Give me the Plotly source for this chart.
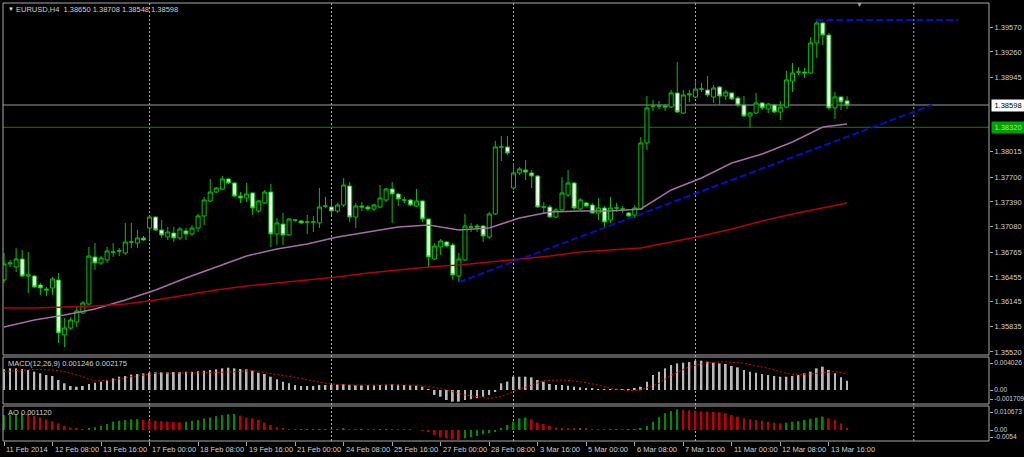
import plotly.graph_objects as go

# ---------------- data ----------------
bar_index = list(range(140))

open_ = [1.36417,1.36617,1.36579,1.36679,1.36467,1.36467,1.36355,1.36305,1.36318,1.36417,
 1.35732,1.35819,1.35894,1.36006,1.36118,1.36704,1.36629,1.36667,1.36766,1.36779,
 1.36754,1.36891,1.36878,1.36941,1.37065,1.37202,1.37040,1.36953,1.37003,1.36941,
 1.37028,1.36991,1.37065,1.37215,1.37402,1.37514,1.37551,1.37676,1.37626,1.37464,
 1.37439,1.37502,1.37277,1.37377,1.37514,1.36991,1.37115,1.36978,1.37165,1.37153,
 1.37140,1.37140,1.37128,1.37339,1.37327,1.37277,1.37352,1.37589,1.37202,1.37339,
 1.37327,1.37302,1.37327,1.37414,1.37551,1.37489,1.37414,1.37414,1.37339,1.37402,
 1.37177,1.36679,1.36829,1.36891,1.36854,1.36467,1.36667,1.37078,1.37090,1.37090,
 1.36953,1.37240,1.38075,1.38075,1.37564,1.37751,1.37788,1.37751,1.37713,1.37327,
 1.37327,1.37202,1.37290,1.37477,1.37626,1.37302,1.37377,1.37352,1.37252,1.37315,
 1.37165,1.37315,1.37302,1.37252,1.37227,1.37302,1.38125,1.38586,1.38586,1.38586,
 1.38573,1.38748,1.38498,1.38723,1.38698,1.38797,1.38785,1.38698,1.38822,1.38710,
 1.38748,1.38685,1.38598,1.38461,1.38498,1.38623,1.38548,1.38598,1.38511,1.38573,
 1.38897,1.39009,1.39009,1.38997,1.39371,1.39620,1.39470,1.38561,1.38698,1.38650]

high = [1.36754,1.36667,1.36816,1.36791,1.36766,1.36480,1.36380,1.36330,1.36455,1.36505,
 1.35944,1.35956,1.36081,1.36156,1.36829,1.36878,1.36716,1.36829,1.36878,1.36816,
 1.37128,1.37128,1.37040,1.36966,1.37227,1.37215,1.37165,1.37078,1.37078,1.37078,
 1.37065,1.37103,1.37240,1.37452,1.37676,1.37576,1.37713,1.37688,1.37638,1.37514,
 1.37626,1.37514,1.37414,1.37539,1.37614,1.37190,1.37252,1.37190,1.37177,1.37165,
 1.37227,1.37215,1.37564,1.37452,1.37414,1.37377,1.37688,1.37638,1.37377,1.37389,
 1.37352,1.37364,1.37601,1.37564,1.37638,1.37502,1.37452,1.37427,1.37551,1.37414,
 1.37177,1.36878,1.36928,1.36903,1.36878,1.36754,1.37240,1.37128,1.37115,1.37103,
 1.37265,1.38150,1.38212,1.38212,1.37875,1.37825,1.37913,1.37788,1.37726,1.37389,
 1.37352,1.37315,1.37701,1.37788,1.37638,1.37439,1.37389,1.37377,1.37439,1.37339,
 1.37452,1.37377,1.37339,1.37265,1.37352,1.38200,1.38710,1.38660,1.38648,1.38610,
 1.38785,1.39134,1.38785,1.38785,1.38910,1.38872,1.38959,1.38847,1.38835,1.38785,
 1.38760,1.38710,1.38710,1.38511,1.38748,1.38635,1.38623,1.38610,1.38648,1.39022,
 1.39121,1.39072,1.39059,1.39445,1.39657,1.39632,1.39495,1.38760,1.38710,1.38708]

low = [1.36380,1.36579,1.36517,1.36455,1.36255,1.36318,1.36231,1.36218,1.36231,1.35632,
 1.35582,1.35794,1.35832,1.35994,1.36106,1.36542,1.36604,1.36629,1.36704,1.36716,
 1.36729,1.36816,1.36816,1.36903,1.36916,1.37028,1.36941,1.36916,1.36891,1.36916,
 1.36916,1.36966,1.37015,1.37103,1.37389,1.37502,1.37539,1.37614,1.37452,1.37377,
 1.37389,1.37227,1.37252,1.37364,1.36829,1.36854,1.36854,1.36966,1.37140,1.37115,
 1.36991,1.37015,1.37065,1.37315,1.37227,1.37252,1.37327,1.37140,1.37065,1.37277,
 1.37277,1.37277,1.37315,1.37389,1.37128,1.37339,1.37377,1.37339,1.37327,1.37140,
 1.36579,1.36667,1.36729,1.36829,1.36417,1.36393,1.36654,1.37015,1.37015,1.36891,
 1.36928,1.37227,1.37900,1.37975,1.37539,1.37726,1.37663,1.37564,1.37315,1.37252,
 1.37190,1.37190,1.37277,1.37452,1.37290,1.37290,1.37327,1.37240,1.37165,1.37065,
 1.37128,1.37265,1.37252,1.37202,1.37190,1.37290,1.38037,1.38523,1.38548,1.38523,
 1.38561,1.38498,1.38486,1.38635,1.38685,1.38760,1.38698,1.38623,1.38598,1.38660,
 1.38660,1.38573,1.38449,1.38312,1.38486,1.38536,1.38498,1.38498,1.38411,1.38561,
 1.38760,1.38972,1.38934,1.38984,1.39184,1.39346,1.38536,1.38424,1.38536,1.38548]

close = [1.36617,1.36629,1.36679,1.36467,1.36480,1.36330,1.36318,1.36293,1.36430,1.35757,
 1.35819,1.35919,1.36031,1.36131,1.36716,1.36629,1.36692,1.36779,1.36766,1.36779,
 1.36891,1.36891,1.36941,1.36916,1.37202,1.37040,1.36978,1.37015,1.36941,1.37053,
 1.36991,1.37065,1.37215,1.37414,1.37514,1.37564,1.37676,1.37626,1.37464,1.37439,
 1.37489,1.37315,1.37402,1.37514,1.36991,1.37128,1.36978,1.37177,1.37165,1.37128,
 1.37140,1.37140,1.37327,1.37339,1.37277,1.37352,1.37601,1.37202,1.37339,1.37327,
 1.37302,1.37352,1.37439,1.37551,1.37489,1.37427,1.37414,1.37352,1.37402,1.37177,
 1.36704,1.36841,1.36903,1.36841,1.36480,1.36679,1.37090,1.37078,1.37078,1.36966,
 1.37240,1.38075,1.38075,1.38000,1.37751,1.37801,1.37763,1.37713,1.37327,1.37327,
 1.37202,1.37290,1.37502,1.37626,1.37315,1.37414,1.37339,1.37252,1.37315,1.37140,
 1.37315,1.37315,1.37302,1.37215,1.37315,1.38125,1.38561,1.38586,1.38586,1.38573,
 1.38748,1.38511,1.38723,1.38735,1.38797,1.38797,1.38723,1.38810,1.38710,1.38760,
 1.38673,1.38598,1.38461,1.38498,1.38623,1.38561,1.38610,1.38511,1.38573,1.38910,
 1.38997,1.39009,1.38997,1.39371,1.39620,1.39470,1.38561,1.38698,1.38635,1.38598]

ma_index = [0,5,10,15,20,25,30,35,40,45,50,55,60,65,70,75,80,85,90,95,100,105,110,115,120,125,130,135,139]
ma_purple = [1.35832,1.35919,1.35981,1.36056,1.36168,1.36293,1.36442,1.36579,1.36716,1.36804,
 1.36866,1.36953,1.37015,1.37078,1.37103,1.37040,1.37065,1.37190,1.37265,1.37277,
 1.37277,1.37302,1.37539,1.37688,1.37875,1.37987,1.38137,1.38324,1.38361]
ma_red = [1.36068,1.36068,1.36081,1.36093,1.36118,1.36168,1.36231,1.36293,1.36343,1.36380,
 1.36417,1.36455,1.36505,1.36542,1.36579,1.36604,1.36642,1.36679,1.36716,1.36766,
 1.36791,1.36816,1.36891,1.36966,1.37053,1.37153,1.37240,1.37315,1.37377]

macd_hist = [0.00275,0.00288,0.00288,0.00279,0.00266,0.00244,0.00222,0.00199,0.00186,0.00133,
 0.00089,0.00053,0.00044,0.00053,0.00080,0.00097,0.00111,0.00133,0.00155,0.00177,
 0.00186,0.00204,0.00213,0.00222,0.00230,0.00235,0.00235,0.00235,0.00239,0.00239,
 0.00244,0.00244,0.00248,0.00257,0.00266,0.00275,0.00288,0.00297,0.00288,0.00279,
 0.00275,0.00257,0.00230,0.00213,0.00177,0.00142,0.00111,0.00089,0.00066,0.00053,
 0.00053,0.00053,0.00066,0.00066,0.00071,0.00071,0.00075,0.00071,0.00062,0.00062,
 0.00062,0.00062,0.00066,0.00071,0.00075,0.00071,0.00066,0.00062,0.00058,0.00044,
 0.00013,-0.00066,-0.00089,-0.00133,-0.00155,-0.00155,-0.00133,-0.00124,-0.00111,-0.00089,
 -0.00066,-0.00022,0.00089,0.00111,0.00177,0.00177,0.00177,0.00168,0.00133,0.00111,
 0.00080,0.00066,0.00066,0.00058,0.00044,0.00035,0.00022,0.00018,0.00013,0.00009,
 0.00009,0.00009,0.00009,0.00009,0.00022,0.00044,0.00111,0.00199,0.00244,0.00288,
 0.00332,0.00354,0.00363,0.00372,0.00390,0.00390,0.00377,0.00363,0.00354,0.00346,
 0.00319,0.00301,0.00266,0.00244,0.00230,0.00213,0.00199,0.00186,0.00177,0.00177,
 0.00186,0.00199,0.00222,0.00244,0.00288,0.00310,0.00266,0.00222,0.00168,0.001246]

signal_index = [0,5,8,10,13,15,18,21,25,30,35,41,44,49,53,56,60,68,72,76,80,82,84,87,89,92,95,98,
 100,103,105,108,110,113,116,119,122,126,129,131,134,137,139]
signal_vals = [0.00244,0.00275,0.00266,0.00244,0.00177,0.00120,0.00133,0.00177,0.00222,0.00230,
 0.00230,0.00257,0.00222,0.00155,0.00089,0.00066,0.00066,0.00066,0.00022,-0.00066,-0.00111,
 -0.00089,-0.00018,0.00066,0.00124,0.00133,0.00111,0.00066,0.00022,-0.00009,0.00000,0.00089,
 0.00199,0.00310,0.00363,0.00377,0.00354,0.00288,0.00222,0.00199,0.00222,0.00244,0.002175]

ao_vals = [0.0076,0.0080,0.0083,0.0085,0.0081,0.0074,0.0065,0.0055,0.0045,0.0034,
 0.0022,0.0012,0.0007,0.0003,0.0009,0.0014,0.0021,0.0031,0.0043,0.0048,
 0.0052,0.0055,0.0056,0.0052,0.0050,0.0048,0.0045,0.0043,0.0041,0.0040,
 0.0043,0.0048,0.0052,0.0060,0.0065,0.0072,0.0077,0.0081,0.0083,0.0074,
 0.0064,0.0060,0.0052,0.0038,0.0026,0.0014,0.0007,0.0003,0.0002,0.0002,
 0.0003,0.0003,0.0004,0.0005,0.0003,0.0004,0.0006,0.0005,0.0004,0.0005,
 0.0004,0.0003,0.0004,0.0005,0.0004,0.0003,0.0002,0.0001,0.0000,-0.0003,
 -0.0010,-0.0026,-0.0038,-0.0043,-0.0048,-0.0052,-0.0043,-0.0038,-0.0031,-0.0022,
 -0.0017,-0.0009,0.0009,0.0026,0.0043,0.0060,0.0064,0.0055,0.0038,0.0031,
 0.0021,0.0012,0.0009,0.0007,0.0006,0.0008,0.0007,0.0005,0.0004,0.0002,
 0.0002,0.0002,0.0001,0.0001,0.0003,0.0009,0.0021,0.0043,0.0069,0.0086,
 0.0098,0.010673,0.0103,0.0101,0.0100,0.0096,0.0095,0.0093,0.0091,0.0086,
 0.0077,0.0069,0.0060,0.0055,0.0052,0.0048,0.0043,0.0038,0.0034,0.0038,
 0.0043,0.0046,0.0052,0.0058,0.0064,0.0069,0.0060,0.0052,0.0034,0.00112]

date_index = [0,8,16,24,32,40,48,56,64,72,80,88,96,104,112,120,128,136]
date_labels = ["11 Feb 2014","12 Feb 08:00","13 Feb 16:00","17 Feb 00:00","18 Feb 08:00",
 "19 Feb 16:00","21 Feb 00:00","24 Feb 08:00","25 Feb 16:00","27 Feb 00:00","28 Feb 08:00",
 "3 Mar 16:00","5 Mar 00:00","6 Mar 08:00","7 Mar 16:00","11 Mar 00:00","12 Mar 08:00","13 Mar 16:00"]

price_ticks = [1.39570,1.39260,1.38945,1.38015,1.37700,1.37390,1.37080,1.36765,1.36455,1.36145,1.35835,1.35520]
macd_ticks = [0.004026, 0.0, -0.001709]
macd_ticktext = ["0.004026", "0.00", "-0.001709"]
ao_ticks = [0.010673, 0.0, -0.0054]
ao_ticktext = ["0.010673", "0.00", "-0.0054"]

grid_index = [24, 54, 84, 114, 150]
last_price = 1.38598
level_price = 1.38320
trend_start = (75.0, 1.36390)
trend_end = (153.0, 1.38598)
top_level = 1.39657
top_level_span = (133.9, 157.3)
title_text = "EURUSD,H4  1.38650 1.38708 1.38548 1.38598"
macd_title = "MACD(12,26,9) 0.001246 0.002175"
ao_title = "AO 0.001120"

# ---------------- style ----------------
W, H = 1024, 457
ML, MR, MT, MB = 3, 35, 3, 16
PH = H - MT - MB
def pdom(y_top, y_bot):
    return [(H - MB - y_bot) / PH, (H - MB - y_top) / PH]

main_dom = pdom(3, 355)
macd_dom = pdom(357, 404)
ao_dom = pdom(406, 441)

GREEN = "#00c400"
FRAME = "#a8a8a8"
TXT = "#d0d0d0"
FONT = "Liberation Sans"
FS = 7.5
FS_SUB = 6.6

main_range = [1.354825, 1.398691]
macd_range = [-0.001862, 0.004389]
ao_range = [-0.005676, 0.012384]

fig = go.Figure()

fig.add_trace(go.Candlestick(
    x=bar_index, open=open_, high=high, low=low, close=close,
    increasing=dict(line=dict(color=GREEN, width=1), fillcolor="#000000"),
    decreasing=dict(line=dict(color=GREEN, width=1), fillcolor="#ffffff"),
    whiskerwidth=0, xaxis="x", yaxis="y", hoverinfo="skip", showlegend=False))

fig.add_trace(go.Scatter(x=ma_index, y=ma_purple, mode="lines",
    line=dict(color="#a86ca8", width=1.5), yaxis="y", hoverinfo="skip"))
fig.add_trace(go.Scatter(x=ma_index, y=ma_red, mode="lines",
    line=dict(color="#b4000c", width=1.5), yaxis="y", hoverinfo="skip"))

fig.add_trace(go.Bar(x=bar_index, y=macd_hist, width=0.3,
    marker=dict(color="#b8b8b8", line=dict(width=0)), yaxis="y2", hoverinfo="skip"))
fig.add_trace(go.Scatter(x=signal_index, y=signal_vals, mode="lines",
    line=dict(color="#e00000", width=1, dash="2px,2px"), yaxis="y2", hoverinfo="skip"))

ao_colors = []
for k, v in enumerate(ao_vals):
    if k == 0 or v >= ao_vals[k - 1]:
        ao_colors.append("#008c00")
    else:
        ao_colors.append("#c00000")
fig.add_trace(go.Bar(x=bar_index, y=ao_vals, width=0.3,
    marker=dict(color=ao_colors, line=dict(width=0)), yaxis="y3", hoverinfo="skip"))

shapes = []
for d in (main_dom, macd_dom, ao_dom):
    shapes.append(dict(type="rect", xref="paper", yref="paper", x0=0, x1=1, y0=d[0], y1=d[1],
                       line=dict(color=FRAME, width=1), layer="above"))
for g in grid_index:
    shapes.append(dict(type="line", xref="x", yref="paper", x0=g, x1=g, y0=0, y1=1,
                       line=dict(color="#b0b0b0", width=1, dash="2px,2px"), layer="below"))
shapes.append(dict(type="line", xref="paper", yref="y", x0=0, x1=1, y0=last_price, y1=last_price,
                   line=dict(color="#9a9a9a", width=1), layer="below"))
shapes.append(dict(type="line", xref="paper", yref="y", x0=0, x1=1, y0=level_price, y1=level_price,
                   line=dict(color="#008800", width=1), layer="below"))
shapes.append(dict(type="line", xref="x", yref="y", x0=trend_start[0], y0=trend_start[1],
                   x1=trend_end[0], y1=trend_end[1],
                   line=dict(color="#0a0ac8", width=2, dash="7px,3px"), layer="above"))
shapes.append(dict(type="line", xref="x", yref="y", x0=top_level_span[0], x1=top_level_span[1],
                   y0=top_level, y1=top_level,
                   line=dict(color="#0a0ac8", width=2, dash="7px,3px"), layer="above"))

annotations = []
for idx, lab in zip(date_index, date_labels):
    annotations.append(dict(x=idx, xref="x", y=-8 / PH, yref="paper", text=lab, showarrow=False,
                            xanchor="left", yanchor="middle", font=dict(family=FONT, size=FS, color=TXT)))
annotations.append(dict(x=0, xref="paper", y=1 - 6 / PH, yref="paper", xshift=3,
                        text="▼", showarrow=False, xanchor="left", yanchor="middle",
                        font=dict(family=FONT, size=6, color="#e0e0e0")))
annotations.append(dict(x=0, xref="paper", y=1 - 6 / PH, yref="paper", xshift=11,
                        text=title_text, showarrow=False, xanchor="left", yanchor="middle",
                        font=dict(family=FONT, size=FS, color=TXT)))
annotations.append(dict(x=0, xref="paper", y=(H - MB - 363) / PH, yref="paper", xshift=3,
                        text=macd_title, showarrow=False, xanchor="left", yanchor="middle",
                        font=dict(family=FONT, size=FS, color=TXT)))
annotations.append(dict(x=0, xref="paper", y=(H - MB - 412) / PH, yref="paper", xshift=3,
                        text=ao_title, showarrow=False, xanchor="left", yanchor="middle",
                        font=dict(family=FONT, size=FS, color=TXT)))
annotations.append(dict(x=141.1, xref="x", y=1, yref="paper", yshift=-1,
                        text="▼", showarrow=False, xanchor="center", yanchor="middle",
                        font=dict(family=FONT, size=7, color="#a0a0a0")))
annotations.append(dict(x=1, xref="paper", y=last_price, yref="y", xshift=2,
                        text=f"{last_price:.5f}", showarrow=False, xanchor="left", yanchor="middle",
                        bgcolor="#ffffff", borderpad=1, width=30,
                        font=dict(family=FONT, size=FS, color="#000000")))
annotations.append(dict(x=1, xref="paper", y=level_price, yref="y", xshift=2,
                        text=f"{level_price:.5f}", showarrow=False, xanchor="left", yanchor="middle",
                        bgcolor="#00a000", borderpad=1, width=30,
                        font=dict(family=FONT, size=FS, color="#a0e8a0")))

# small inward shift of the sub-window edge labels, as the terminal does
macd_px = (macd_range[1] - macd_range[0]) / (404 - 357)
ao_px = (ao_range[1] - ao_range[0]) / (441 - 406)
macd_tickpos = [macd_ticks[0] - 3.3 * macd_px, macd_ticks[1], macd_ticks[2] + 3.8 * macd_px]
ao_tickpos = [ao_ticks[0] - 2.7 * ao_px, ao_ticks[1], ao_ticks[2] + 3.3 * ao_px]

common_y = dict(side="right", anchor="x", showgrid=False, zeroline=False, showline=False,
                ticks="outside", ticklen=3, tickcolor=FRAME, fixedrange=True, automargin=False,
                tickmode="array")

fig.update_layout(
    template="none",
    width=W, height=H, margin=dict(l=ML, r=MR, t=MT, b=MB, autoexpand=False),
    paper_bgcolor="#000000", plot_bgcolor="#000000", showlegend=False,
    barmode="overlay", boxgap=0.3, boxgroupgap=0.05,
    xaxis=dict(domain=[0, 1], range=[-0.165, 162.4], anchor="y3", showgrid=False, zeroline=False,
               showline=False, tickmode="array", tickvals=date_index, ticks="outside", ticklen=4,
               tickcolor=FRAME, showticklabels=False, rangeslider=dict(visible=False),
               fixedrange=True, automargin=False),
    yaxis=dict(domain=main_dom, range=main_range, tickvals=price_ticks,
               ticktext=[f"{v:.5f}" for v in price_ticks],
               tickfont=dict(family=FONT, size=FS, color=TXT), **common_y),
    yaxis2=dict(domain=macd_dom, range=macd_range, tickvals=macd_tickpos, ticktext=macd_ticktext,
                tickfont=dict(family=FONT, size=FS_SUB, color=TXT), **common_y),
    yaxis3=dict(domain=ao_dom, range=ao_range, tickvals=ao_tickpos, ticktext=ao_ticktext,
                tickfont=dict(family=FONT, size=FS_SUB, color=TXT), **common_y),
    shapes=shapes, annotations=annotations,
)

fig.write_html("out.html", config={"displayModeBar": False},
               post_script="document.body.style.margin='0';document.body.style.overflow='hidden';")
